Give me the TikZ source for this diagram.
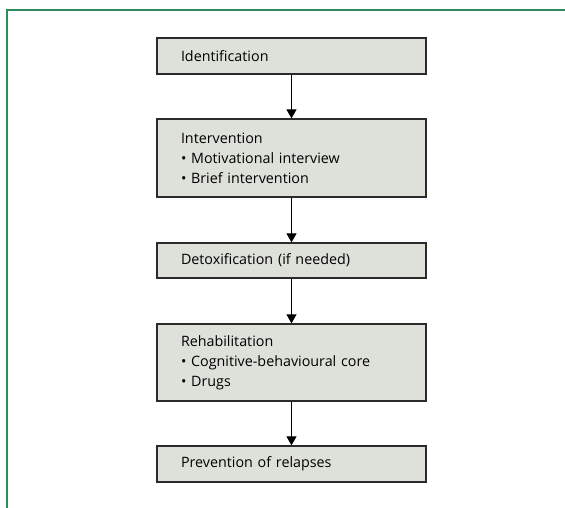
\documentclass[tikz,border=0pt]{standalone}
\usepackage{fontspec}
\setmainfont{Open Sans}
\usetikzlibrary{arrows.meta}
\definecolor{framegreen}{HTML}{2E8B5C}
\definecolor{boxfill}{HTML}{DDE1DA}
\definecolor{boxline}{HTML}{2B2B2B}
\tikzset{
  stagebox/.style={
    draw=boxline, fill=boxfill, line width=1.3pt,
    text width=221pt, inner xsep=24pt, inner ysep=0pt,
    align=left, font=\fontsize{14.3}{20}\selectfont
  },
  flowarrow/.style={
    line width=1.1pt, -{Triangle[width=10pt,length=9pt]}
  }
}

\begin{document}
\begin{tikzpicture}[x=1pt,y=-1pt]
\useasboundingbox (0,0) rectangle (565,508);
\draw [framegreen, line width=2pt] (6.5, 508) -- (6.5, 10) -- (565, 10);
\node [stagebox, minimum height=36pt] (ident) at (291.5, 56) {Identification};
\node [stagebox, minimum height=78pt] (interv) at (291.5, 158)
  {Intervention\\ • Motivational interview\\ • Brief intervention};
\node [stagebox, minimum height=35pt] (detox) at (291.5, 260.5) {Detoxification (if needed)};
\node [stagebox, minimum height=77pt] (rehab) at (291.5, 362.5)
  {Rehabilitation\\ • Cognitive-behavioural core\\ • Drugs};
\node [stagebox, minimum height=36pt] (relapse) at (291.5, 464) {Prevention of relapses};
\draw [flowarrow] (ident) -- (interv);
\draw [flowarrow] (interv) -- (detox);
\draw [flowarrow] (detox) -- (rehab);
\draw [flowarrow] (rehab) -- (relapse);
\end{tikzpicture}
\end{document}
